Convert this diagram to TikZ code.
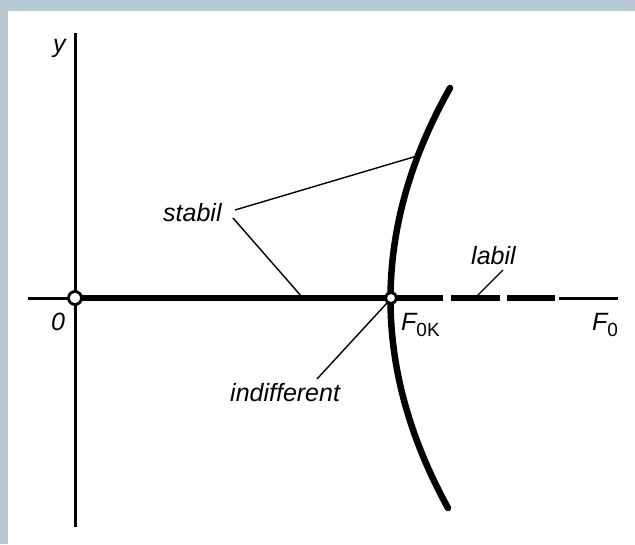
\documentclass[tikz,border=0pt]{standalone}
\usepackage{fontspec}
\setmainfont{Liberation Sans}
\definecolor{framec}{HTML}{B9CAD4}
\newcommand{\mysub}[1]{\raisebox{-0.25em}{\fontsize{19}{19}\selectfont\upshape #1}}
\begin{document}
\begin{tikzpicture}[x=1pt,y=-1pt,
  lbl/.style={font=\fontsize{25}{25}\selectfont\itshape, inner sep=0, anchor=base west},
  leader/.style={line width=1.4pt},
  thinax/.style={line width=3pt},
  thickax/.style={line width=6pt},
  curvest/.style={line width=6.5pt, line cap=round},
  pt/.style={circle, draw, fill=white, line width=2.8pt, minimum size=13pt, inner sep=0}]
\useasboundingbox (0,0) rectangle (635,544);
\fill[white] (0,0) rectangle (635,544);
\fill[framec] (0,0) rectangle (635,11);
\fill[framec] (0,0) rectangle (8,544);
% axes
\coordinate (ytop) at (75,33);
\coordinate (ybot) at (75,527);
\coordinate (xl) at (28,298);
\coordinate (o) at (75,298);
\coordinate (f) at (391,298);
\coordinate (s1) at (443,298);
\coordinate (d1a) at (451,298);
\coordinate (d1b) at (500,298);
\coordinate (d2a) at (507,298);
\coordinate (d2b) at (555,298);
\coordinate (ta) at (559,298);
\coordinate (xr) at (618,298);
\draw[thinax] (ytop) -- (ybot);
\draw[thinax] (xl) -- (o);
\draw[thickax] (o) -- (s1);
\draw[thickax] (d1a) -- (d1b);
\draw[thickax] (d2a) -- (d2b);
\draw[thinax] (ta) -- (xr);
% curve
\coordinate (ct) at (450,88);
\coordinate (cb) at (448,508);
\draw[curvest] (ct) .. controls (371,228) and (371,368) .. (cb);
% points
\node[pt] (O) at (o) {};
\node[pt, minimum size=11pt] (F) at (f) {};
% labels
\node[lbl] (ylab) at (53,52) {y};
\node[lbl] (zero) at (51,330) {0};
\node[lbl] (fok) at (401,330) {F\mysub{0K}};
\node[lbl] (fo) at (592,330) {F\mysub{0}};
\node[lbl] (stabil) at (163,221) {stabil};
\node[lbl] (labil) at (471,264) {labil};
\node[lbl] (indiff) at (230,401) {indifferent};
% leaders
\coordinate (st1) at (235,210);
\coordinate (st2) at (233,218);
\coordinate (stc) at (417,156);
\coordinate (sta) at (302,297);
\coordinate (la1) at (503,270);
\coordinate (la2) at (477,296);
\coordinate (in1) at (317,379);
\coordinate (in2) at (387,303);
\draw[leader] (st1) -- (stc);
\draw[leader] (st2) -- (sta);
\draw[leader] (la1) -- (la2);
\draw[leader] (in1) -- (in2);
\end{tikzpicture}
\end{document}
